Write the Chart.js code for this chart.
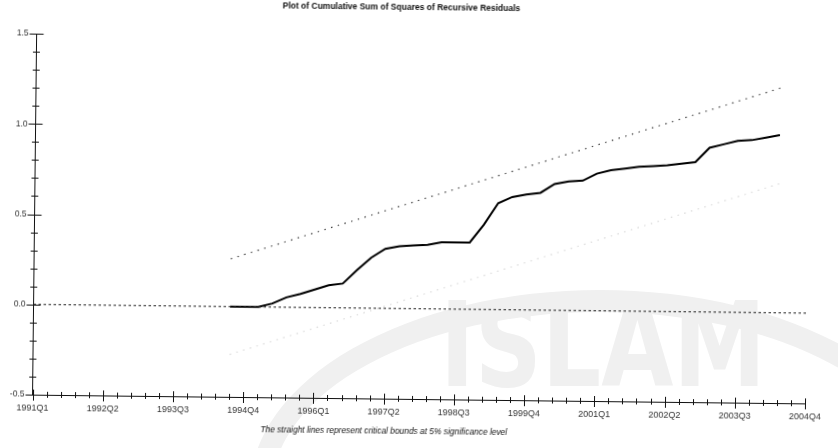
<!DOCTYPE html>
<html>
<head>
<meta charset="utf-8">
<script src="https://cdn.jsdelivr.net/npm/chart.js@4.4.1/dist/chart.umd.min.js"></script>
<style>
  html, body { margin: 0; padding: 0; background: #fff; overflow: hidden; }
  #wrap { position: relative; width: 838px; height: 448px; overflow: hidden; }
  #arc { position: absolute; left: 250px; top: 290px; width: 700px; height: 400px;
         border: 22px solid #f0f0f0; border-radius: 50%; box-sizing: border-box; }
  #mark { position: absolute; left: 440px; top: 286px; font: bold 118px "DejaVu Sans";
          line-height: 1; color: #f0f0f0; transform: scaleX(0.79); transform-origin: left top; }
  #plot { position: absolute; left: 0; top: 0; transform: rotate(0.65deg); }
</style>
</head>
<body>
<div id="wrap">
  <div id="arc"></div>
  <div id="mark">ISLAM</div>
  <canvas id="plot" width="838" height="448"></canvas>
</div>
<script>
// quarterly categories 1991Q1 .. 2004Q4
var quarters = [];
for (var yr = 1991; yr <= 2004; yr++) {
    for (var q = 1; q <= 4; q++) {
        quarters.push(yr + 'Q' + q);
    }
}

// cumulative sum of squares, 1994Q3 .. 2004Q2
var cusumStart = '1994Q3';
var cusumSq = [0.0, 0.0, 0.0, 0.02, 0.055, 0.075, 0.10, 0.125, 0.135, 0.21,
               0.28, 0.33, 0.345, 0.35, 0.355, 0.37, 0.37, 0.37, 0.47, 0.59,
               0.625, 0.64, 0.65, 0.70, 0.715, 0.72, 0.76, 0.78, 0.79, 0.80,
               0.805, 0.81, 0.82, 0.83, 0.91, 0.93, 0.95, 0.955, 0.97, 0.985];

// 5% critical bounds (straight lines, end points only)
var boundQuarters = ['1994Q3', '2004Q2'];
var upperBound = [0.265, 1.245];
var lowerBound = [-0.265, 0.715];

var zeroQuarters = ['1991Q1', '2004Q4'];
var zeroLine = [0, 0];

var titleText = 'Plot of Cumulative Sum of Squares of Recursive Residuals';
var noteText = 'The straight lines represent critical bounds at 5% significance level';

function pairs(xs, ys) {
    var out = [];
    for (var i = 0; i < xs.length; i++) out.push({x: xs[i], y: ys[i]});
    return out;
}

var startIdx = quarters.indexOf(cusumStart);
var cusumData = [];
for (var i = 0; i < cusumSq.length; i++) {
    cusumData.push({x: quarters[startIdx + i], y: cusumSq[i]});
}

var crossTicks = {
    id: 'crossTicks',
    afterDraw: function(chart) {
        var ctx = chart.ctx;
        var xs = chart.scales.x;
        var ys = chart.scales.y;
        var area = chart.chartArea;
        ctx.save();
        ctx.strokeStyle = '#111';
        ctx.lineWidth = 1;
        ctx.beginPath();
        ys.ticks.forEach(function(t, i) {
            var y = Math.round(ys.getPixelForTick(i)) + 0.5;
            var l = t.label !== '' ? 7 : 3.5;
            ctx.moveTo(area.left - l, y);
            ctx.lineTo(area.left + l, y);
        });
        xs.ticks.forEach(function(t, i) {
            var x = Math.round(xs.getPixelForTick(i)) + 0.5;
            var big = (i % 5 === 0);
            ctx.moveTo(x, area.bottom - (big ? 5 : 3));
            ctx.lineTo(x, area.bottom + (big ? 6 : 3));
        });
        ctx.stroke();

        ctx.fillStyle = '#111';
        ctx.textAlign = 'center';
        ctx.textBaseline = 'middle';
        ctx.font = 'bold 8.5px "Liberation Sans"';
        ctx.fillText(titleText, 399, 8);
        ctx.font = 'italic 8.4px "Liberation Sans"';
        ctx.fillText(noteText, 386, 432);
        ctx.restore();
    }
};

var ctx = document.getElementById('plot');

var chart = new Chart(ctx, {
    type: 'line',
    data: {
        labels: quarters,
        datasets: [
            {
                label: 'Zero',
                data: pairs(zeroQuarters, zeroLine),
                borderColor: '#222',
                borderWidth: 1.2,
                borderDash: [2.5, 2.5]
            },
            {
                label: 'Lower bound',
                data: pairs(boundQuarters, lowerBound),
                borderColor: '#dadada',
                borderWidth: 1.2,
                borderDash: [1.5, 5.5]
            },
            {
                label: 'Upper bound',
                data: pairs(boundQuarters, upperBound),
                borderColor: '#444',
                borderWidth: 1.2,
                borderDash: [1.5, 5.5]
            },
            {
                label: 'CUSUM of squares',
                data: cusumData,
                borderColor: '#000',
                borderWidth: 2
            }
        ]
    },
    options: {
        responsive: false,
        animation: false,
        layout: { padding: { top: 38, right: 31, bottom: 27, left: 0 } },
        elements: { point: { radius: 0 }, line: { tension: 0 } },
        plugins: {
            legend: { display: false },
            tooltip: { enabled: false },
            title: { display: false }
        },
        scales: {
            x: {
                type: 'category',
                offset: false,
                grid: { display: false, drawTicks: false },
                border: { color: '#111', width: 1 },
                ticks: {
                    autoSkip: false,
                    maxRotation: 0,
                    padding: 8,
                    color: '#333',
                    font: { family: 'Liberation Sans', size: 9 },
                    callback: function(v, i) { return i % 5 === 0 ? quarters[i] : ''; }
                },
                afterFit: function(s) { s.height = 22; }
            },
            y: {
                min: -0.5,
                max: 1.5,
                grid: { display: false, drawTicks: false },
                border: { color: '#111', width: 1 },
                ticks: {
                    stepSize: 0.1,
                    padding: 8,
                    color: '#333',
                    font: { family: 'Liberation Sans', size: 8.5 },
                    callback: function(v) {
                        var d = v * 2;
                        return Math.abs(d - Math.round(d)) < 1e-6 ? v.toFixed(1) : '';
                    }
                },
                afterFit: function(s) { s.width = 34.5; }
            }
        }
    },
    plugins: [crossTicks]
});
</script>
</body>
</html>
